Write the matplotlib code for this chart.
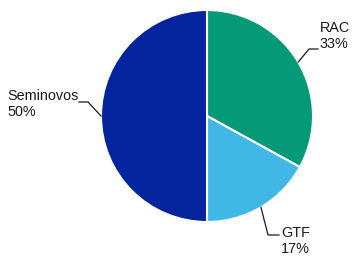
import numpy as np
import matplotlib
matplotlib.use("Agg")
import matplotlib.pyplot as plt

# data
labels = ["RAC", "GTF", "Seminovos"]
shares = [33, 17, 50]
colors = ["#049A78", "#41B7E6", "#03249C"]

plt.rcParams['font.family'] = ['Liberation Sans', 'DejaVu Sans']

W, H = 352, 257
R = 106.0          # pie radius in px
cx, cy = 207, 116  # pie centre in px (from top-left)

fig = plt.figure(figsize=(W / 100, H / 100), dpi=100)
ax = fig.add_axes([0, 0, 1, 1])

wedges, _ = ax.pie(shares, colors=colors, startangle=90, counterclock=False,
                   radius=1, center=(0, 0),
                   wedgeprops=dict(edgecolor='white', linewidth=1.5))

# pie() resets the limits, so set them afterwards
ax.set_xlim(-cx / R, (W - cx) / R)
ax.set_ylim(-(H - cy) / R, cy / R)
ax.set_aspect('equal')
ax.axis('off')

def px(x, y):
    # pixel (from top-left) -> data
    return ((x - cx) / R, (cy - y) / R)

# leader lines: elbow and end point in px, text anchor
elbows = [(309, 49), (268, 235), (88, 102)]
ends = [(318, 49), (279, 235), (79, 102)]
text_pos = [(320, 36, 'left'), (281, 241, 'left'), (79, 104, 'right')]

for w, lab, val, el, en, tp in zip(wedges, labels, shares, elbows, ends, text_pos):
    ang = np.deg2rad((w.theta1 + w.theta2) / 2)
    x0, y0 = np.cos(ang), np.sin(ang)
    ex, ey = px(*el)
    nx, ny = px(*en)
    ax.plot([x0, ex, nx], [y0, ey, ny], color='#1a1a1a', lw=0.9,
            solid_joinstyle='miter')
    tx, ty = px(tp[0], tp[1])
    ax.text(tx, ty, f"{lab}\n{val}%", ha=tp[2], va='center',
            multialignment='left', fontsize=10.4, color='#1a1a1a',
            linespacing=1.12)

fig.savefig("out.png", dpi=100)
